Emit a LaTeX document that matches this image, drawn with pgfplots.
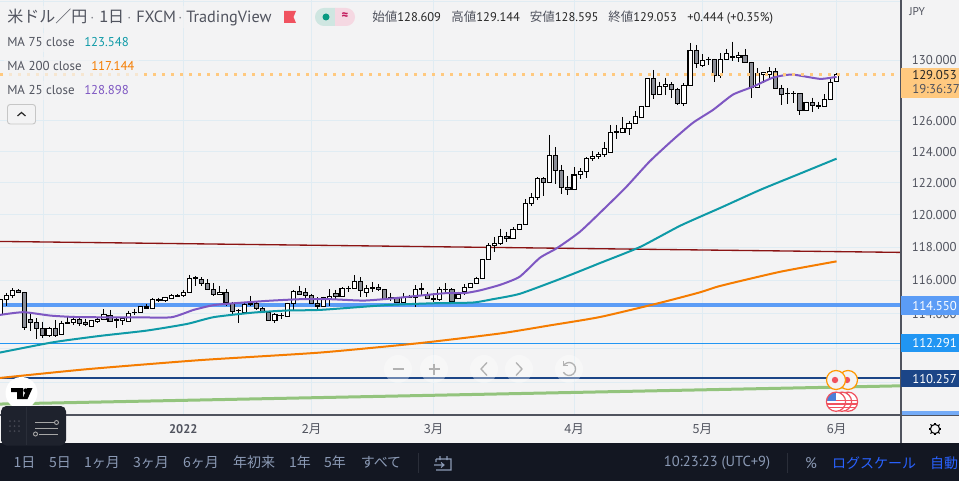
\documentclass[border=0pt]{standalone}
\usepackage{fontspec}
\usepackage{pgfplots}
\pgfplotsset{compat=1.18}
\setmainfont{PT Sans}
\newfontfamily\cjk{Noto Sans CJK JP}
\newcommand\fs[1]{\fontsize{#1}{#1}\selectfont}
\definecolor{bg}{HTML}{F3F3F4}
\definecolor{gridc}{HTML}{E0ECF3}
\definecolor{dark}{HTML}{131722}
\definecolor{txt}{HTML}{50535E}
\definecolor{teal75}{HTML}{0E9AA7}
\definecolor{orange200}{HTML}{F57C00}
\definecolor{purple25}{HTML}{7E57C2}
\definecolor{lineblue}{HTML}{5B9CF6}
\definecolor{tagblue}{HTML}{2196F3}
\definecolor{navy}{HTML}{1B4587}
\definecolor{trend}{HTML}{8B1414}
\definecolor{greenl}{HTML}{93C47D}
\definecolor{dot}{HTML}{FFC97F}
\definecolor{barg}{HTML}{8A8D96}
\definecolor{btn}{HTML}{8B9AB5}
\definecolor{pillg}{HTML}{CFE6E1}
\definecolor{pillr}{HTML}{F5D8E2}
\definecolor{dotg}{HTML}{089981}
\definecolor{crim}{HTML}{C2185B}
\definecolor{orev}{HTML}{FF9800}
\definecolor{redev}{HTML}{F0525F}
\definecolor{flagb}{HTML}{4A7FD8}
\definecolor{panel}{HTML}{1E222D}
\definecolor{sepc}{HTML}{2A2E39}
\definecolor{dotp}{HTML}{434651}
\definecolor{royal}{HTML}{2962FF}
\tikzset{wick/.style={black,line width=0.75pt},
  bodyu/.style={draw=black,fill=white,line width=0.8pt,line join=miter},
  bodyd/.style={draw=black,fill=barg,line width=0.8pt,line join=miter},
  ma/.style={line width=1.5pt,smooth,tension=0.35}}
% candle: index, open, high, low, close
\newcommand\CU[5]{\pgfmathsetmacro\xa{#1-0.34}\pgfmathsetmacro\xb{#1+0.34}%
  \addplot[wick,forget plot] coordinates {(#1,#3)(#1,#4)};%
  \addplot[bodyu,forget plot] coordinates {(\xa,#2)(\xb,#2)(\xb,#5)(\xa,#5)} --cycle;}
\newcommand\CD[5]{\pgfmathsetmacro\xa{#1-0.34}\pgfmathsetmacro\xb{#1+0.34}%
  \addplot[wick,forget plot] coordinates {(#1,#3)(#1,#4)};%
  \addplot[bodyd,forget plot] coordinates {(\xa,#2)(\xb,#2)(\xb,#5)(\xa,#5)} --cycle;}
\begin{document}
\begin{tikzpicture}
\useasboundingbox (0pt,0pt) rectangle (719.25pt,-360.75pt);
\fill[bg] (0pt,0pt) rectangle (719.25pt,-360.75pt);
\begin{axis}[at={(0pt,-311.25pt)},anchor=south west,scale only axis,
  width=675.75pt,height=311.25pt,
  ymode=log,xmin=-0.033,xmax=147.55,ymin=108.19,ymax=134.14,
  axis line style={draw=none},major tick length=0pt,minor tick length=0pt,
  grid=major,grid style={gridc,line width=0.75pt},
  xtick={7.17,30,51,71,94,115,137},
  xticklabels={{},\textbf{2022},{\cjk 2月},{\cjk 3月},{\cjk 4月},{\cjk 5月},{\cjk 6月}},
  xticklabel style={anchor=center,inner sep=0pt,yshift=-10.5pt,font=\fs{9.4pt},text=txt},
  ytick={110,112,114,116,118,120,122,124,126,130,134},
  yticklabels={{},{},114.000,116.000,118.000,120.000,122.000,124.000,126.000,130.000,{}},
  yticklabel pos=right,
  yticklabel style={anchor=west,inner sep=0pt,xshift=8pt,font=\fs{9.6pt},text=txt},
  clip=true]
% horizontal drawings
\addplot[lineblue,line width=3pt,forget plot] coordinates {(-0.033,114.55)(147.55,114.55)};
\addplot[tagblue,line width=0.75pt,forget plot] coordinates {(-0.033,112.291)(147.55,112.291)};
\addplot[navy,line width=1.5pt,forget plot] coordinates {(-0.033,110.257)(147.55,110.257)};
\addplot[trend,line width=1pt,forget plot] coordinates {(-0.033,118.36)(147.55,117.69)};
\addplot[greenl,line width=2.25pt,forget plot] coordinates {(-0.033,108.80)(147.55,109.83)};
% candles
\CU{0}{113.98}{114.89}{113.94}{114.87}
\CU{1}{114.83}{115.25}{114.47}{115.11}
\CU{2}{115.11}{115.53}{114.93}{115.41}
\CD{3}{115.41}{115.47}{115.25}{115.29}
\CD{4}{115.29}{115.31}{113.08}{113.20}
\CD{5}{113.69}{113.98}{113.02}{113.49}
\CD{6}{113.51}{113.75}{112.55}{113.14}
\CD{7}{113.14}{113.55}{112.59}{112.73}
\CU{8}{112.73}{113.25}{112.65}{113.14}
\CD{9}{113.16}{113.65}{112.65}{112.75}
\CU{10}{112.81}{113.61}{112.75}{113.45}
\CD{11}{113.51}{113.81}{113.44}{113.45}
\CU{12}{113.47}{113.90}{113.35}{113.65}
\CD{13}{113.65}{113.81}{113.31}{113.45}
\CD{14}{113.47}{113.72}{113.30}{113.35}
\CU{15}{113.28}{113.65}{113.24}{113.59}
\CU{16}{113.55}{113.77}{113.49}{113.69}
\CU{17}{113.69}{114.27}{113.65}{113.94}
\CD{18}{113.92}{114.24}{113.53}{113.57}
\CU{19}{113.59}{113.81}{113.18}{113.69}
\CU{20}{113.59}{113.78}{113.37}{113.71}
\CU{21}{113.57}{114.20}{113.53}{114.04}
\CD{22}{114.10}{114.31}{113.96}{114.06}
\CU{23}{114.10}{114.46}{114.06}{114.41}
\CU{24}{114.35}{114.57}{114.34}{114.41}
\CU{25}{114.34}{114.95}{114.31}{114.87}
\CU{26}{114.79}{114.97}{114.71}{114.87}
\CU{27}{114.79}{115.03}{114.69}{114.95}
\CU{28}{114.93}{115.19}{114.87}{115.07}
\CU{29}{115.05}{115.19}{115.03}{115.11}
\CU{30}{115.11}{115.43}{115.03}{115.29}
\CU{31}{115.29}{116.33}{115.26}{116.13}
\CD{32}{116.15}{116.27}{115.63}{116.09}
\CD{33}{116.07}{116.19}{115.67}{115.83}
\CD{34}{115.83}{116.07}{115.45}{115.47}
\CD{35}{115.47}{115.83}{115.07}{115.15}
\CU{36}{115.17}{115.67}{115.15}{115.29}
\CD{37}{115.29}{115.47}{114.47}{114.67}
\CD{38}{114.63}{114.71}{114.00}{114.16}
\CU{39}{114.20}{114.29}{113.49}{114.22}
\CU{40}{114.10}{114.63}{114.08}{114.57}
\CU{41}{114.55}{115.07}{114.47}{114.59}
\CD{42}{114.59}{114.71}{114.24}{114.34}
\CD{43}{114.34}{114.43}{114.04}{114.08}
\CD{44}{114.08}{114.12}{113.62}{113.63}
\CU{45}{113.61}{114.04}{113.49}{113.94}
\CU{46}{113.88}{114.08}{113.72}{113.92}
\CU{47}{113.87}{114.67}{113.81}{114.63}
\CU{48}{114.59}{115.43}{114.24}{115.32}
\CD{49}{115.35}{115.67}{115.11}{115.17}
\CD{50}{115.29}{115.53}{114.87}{115.11}
\CD{51}{115.11}{115.19}{114.59}{114.63}
\CD{52}{114.63}{114.99}{114.28}{114.47}
\CU{53}{114.46}{115.03}{114.40}{114.95}
\CU{54}{114.93}{115.47}{114.47}{115.05}
\CD{55}{115.23}{115.43}{114.91}{115.03}
\CU{56}{115.03}{115.59}{114.99}{115.53}
\CU{57}{115.49}{115.68}{115.31}{115.53}
\CU{58}{115.53}{116.33}{115.51}{115.92}
\CD{59}{115.95}{116.19}{115.03}{115.41}
\CU{60}{115.29}{115.70}{115.03}{115.51}
\CD{61}{115.59}{115.90}{115.32}{115.51}
\CD{62}{115.59}{115.78}{115.35}{115.45}
\CD{63}{115.47}{115.49}{114.87}{114.93}
\CD{64}{114.95}{115.26}{114.79}{114.91}
\CD{65}{114.93}{115.03}{114.67}{114.69}
\CU{66}{114.67}{115.23}{114.63}{114.95}
\CU{67}{114.97}{115.13}{114.93}{115.03}
\CU{68}{114.95}{115.70}{114.43}{115.47}
\CU{69}{115.47}{115.83}{115.13}{115.51}
\CD{70}{115.11}{115.32}{114.89}{114.91}
\CD{71}{114.93}{115.23}{114.73}{114.87}
\CU{72}{114.87}{115.62}{114.75}{115.47}
\CU{73}{115.43}{115.83}{115.31}{115.47}
\CD{74}{115.47}{115.53}{114.71}{114.73}
\CU{75}{114.91}{115.32}{114.87}{115.15}
\CU{76}{115.31}{115.78}{115.13}{115.59}
\CU{77}{115.59}{115.86}{115.55}{115.83}
\CU{78}{115.83}{116.22}{115.80}{116.13}
\CU{79}{116.13}{117.30}{116.10}{117.28}
\CU{80}{117.28}{118.25}{117.25}{118.13}
\CU{81}{118.10}{118.64}{117.74}{118.25}
\CU{82}{118.21}{119.14}{118.15}{118.66}
\CD{83}{118.68}{118.97}{118.35}{118.54}
\CU{84}{118.54}{119.22}{118.50}{119.12}
\CU{85}{119.12}{119.46}{119.09}{119.43}
\CU{86}{119.43}{120.98}{119.40}{120.73}
\CU{87}{120.73}{121.36}{120.58}{121.11}
\CU{88}{121.11}{122.37}{120.94}{122.28}
\CD{89}{122.28}{122.37}{121.19}{122.05}
\CU{90}{122.03}{125.08}{122.01}{123.77}
\CD{91}{123.77}{124.28}{121.94}{122.82}
\CD{92}{122.82}{123.15}{121.30}{121.74}
\CD{93}{121.71}{122.45}{121.24}{121.59}
\CU{94}{121.61}{122.99}{121.59}{122.50}
\CU{95}{122.54}{122.94}{122.25}{122.73}
\CU{96}{122.73}{123.64}{122.32}{123.58}
\CU{97}{123.58}{124.05}{123.41}{123.71}
\CU{98}{123.71}{123.98}{123.52}{123.83}
\CU{99}{123.83}{124.63}{123.68}{124.22}
\CU{100}{123.94}{125.73}{123.94}{125.26}
\CU{101}{125.23}{125.73}{124.80}{125.27}
\CU{102}{125.23}{126.25}{125.23}{125.51}
\CU{103}{125.49}{125.99}{125.10}{125.84}
\CU{104}{125.84}{126.64}{125.81}{126.30}
\CU{105}{126.20}{126.97}{126.18}{126.95}
\CU{106}{126.95}{128.83}{126.93}{128.81}
\CD{107}{128.81}{129.36}{127.43}{127.74}
\CU{108}{127.74}{128.58}{127.72}{128.27}
\CU{109}{128.25}{128.85}{127.70}{128.41}
\CD{110}{128.41}{128.52}{127.52}{128.07}
\CD{111}{128.07}{128.18}{127.00}{127.15}
\CU{112}{127.15}{128.50}{126.97}{128.31}
\CU{113}{128.31}{131.18}{128.29}{130.69}
\CD{114}{130.69}{131.05}{129.48}{129.81}
\CU{115}{129.65}{130.42}{129.57}{130.01}
\CD{116}{130.08}{130.26}{129.70}{130.03}
\CD{117}{130.08}{130.10}{128.58}{128.98}
\CU{118}{128.98}{130.49}{128.81}{130.08}
\CU{119}{130.05}{130.78}{130.04}{130.49}
\CD{120}{130.28}{131.27}{129.97}{130.21}
\CU{121}{130.21}{130.59}{129.92}{130.35}
\CD{122}{130.35}{130.78}{129.83}{129.88}
\CD{123}{129.88}{129.90}{127.52}{128.18}
\CU{124}{128.18}{129.48}{128.17}{129.12}
\CU{125}{129.07}{129.23}{128.50}{129.21}
\CU{126}{129.07}{129.54}{128.70}{129.25}
\CD{127}{129.25}{129.48}{128.09}{128.14}
\CD{128}{128.14}{128.36}{127.00}{127.74}
\CD{129}{127.81}{128.14}{127.09}{127.76}
\CD{130}{127.81}{127.96}{127.14}{127.78}
\CD{131}{127.78}{127.80}{126.38}{126.66}
\CU{132}{126.66}{127.25}{126.64}{127.21}
\CD{133}{127.21}{127.51}{126.56}{126.99}
\CD{134}{126.99}{127.25}{126.74}{126.95}
\CU{135}{126.95}{127.74}{126.93}{127.41}
\CU{136}{127.41}{128.76}{127.39}{128.54}
\CU{137}{128.609}{129.144}{128.595}{129.053}
% moving averages
\addplot[orange200,ma,forget plot] coordinates {(-0.033,110.28)(14.2,110.78)(32.7,111.30)(52.4,111.74)(68.8,112.29)(81.9,112.85)(90,113.32)(98.3,113.82)(108,114.65)(114.6,115.28)(118,115.67)(127.7,116.51)(137,117.144)};
\addplot[teal75,ma,forget plot] coordinates {(-0.033,111.74)(8.7,112.34)(16.4,112.71)(24,113.02)(30.6,113.41)(35,113.81)(41.5,114.08)(47,114.20)(52.5,114.24)(63.3,114.52)(71,114.63)(77.4,114.67)(80.7,114.87)(85.1,115.19)(91.7,116.08)(98.3,117.05)(104.8,118.02)(111.4,119.33)(118,120.44)(124.5,121.57)(131,122.59)(137,123.548)};
\addplot[purple25,ma,forget plot] coordinates {(-0.033,113.94)(3.8,114.10)(8.2,113.90)(12,113.82)(16.4,113.80)(22,113.80)(28,113.80)(31.7,114.24)(35,114.52)(38.3,114.63)(43.7,114.77)(49.2,114.87)(54,114.87)(59.5,114.79)(64,114.91)(68.3,115.07)(73,115.23)(76,115.23)(78.5,115.39)(81.9,115.73)(85.1,116.22)(88.4,117.36)(91.2,117.95)(95,118.97)(99.3,120.52)(102.6,121.77)(106.4,123.38)(110.2,124.76)(113.5,125.87)(116.8,126.72)(120,127.71)(123.3,128.24)(126.6,128.85)(129.7,129.05)(134.3,128.76)(137,128.898)};
\addplot[dot,line width=2.25pt,dash pattern=on 2.25pt off 4.5pt,forget plot] coordinates {(-0.033,129.053)(147.55,129.053)};
\end{axis}
\begin{scope}[x=0.75pt,y=-0.75pt]
% frame of scales
\draw[txt,line width=0.9pt] (901,0) -- (901,443);
\draw[txt,line width=0.9pt] (0,415) -- (959,415);
\fill[dark] (0,443) rectangle (959,481);
% price tags
\fill[dot] (901,68) rectangle (959,98);
\node[anchor=base west,inner sep=0,font=\fs{9.6pt},text=black!85] at (912,79.5) {129.053};
\node[anchor=base west,inner sep=0,font=\fs{9.6pt},text=txt] at (912,94) {19:36:37};
\fill[lineblue] (901,296) rectangle (959,315);
\node[anchor=base west,inner sep=0,font=\fs{9.6pt},text=white] at (912,310) {114.550};
\fill[tagblue] (901,334) rectangle (959,352);
\node[anchor=base west,inner sep=0,font=\fs{9.6pt},text=white] at (912,347.5) {112.291};
\fill[navy] (901,370) rectangle (959,387);
\node[anchor=base west,inner sep=0,font=\fs{9.6pt},text=white] at (912,383) {110.257};
\fill[lineblue!85!white] (902,411) rectangle (959,414.6);
\node[anchor=base west,inner sep=0,font=\fs{8.5pt},text=txt] at (909,16) {JPY};
% gear
\draw[black,line width=0.8pt] (935,429) circle (4.6);
\foreach \a in {0,45,...,315}{\draw[black,line width=0.8pt] (935,429)++(\a:4.6) -- ++(\a:1.8);}
% header
\fill[bg,opacity=0.6] (3,6) rectangle (278,28);
\node[anchor=base west,inner sep=0,font=\fs{12pt}\cjk,text=txt] at (7,23) {米ドル／円};
\node[anchor=base west,inner sep=0,font=\fs{11pt},text=txt!70] at (90,23) {·};
\node[anchor=base west,inner sep=0,font=\fs{12pt}\cjk,text=txt] at (99,23) {1日};
\node[anchor=base west,inner sep=0,font=\fs{11pt},text=txt!70] at (127,23) {·};
\node[anchor=base west,inner sep=0,font=\fs{12.2pt},text=txt] at (136,23) {FXCM};
\node[anchor=base west,inner sep=0,font=\fs{11pt},text=txt!70] at (178,23) {·};
\node[anchor=base west,inner sep=0,font=\fs{12.2pt},text=txt] at (186,23) {TradingView};
\fill[redev] (284,11) -- (296,11) -- (293.5,17) -- (296,23) -- (284,23) -- cycle;
\begin{scope}\clip (314,7) rectangle (335,27);\fill[pillg,rounded corners=6.7pt] (315,8) rectangle (355,26);\end{scope}
\begin{scope}\clip (335,7) rectangle (356,27);\fill[pillr,rounded corners=6.7pt] (315,8) rectangle (355,26);\end{scope}
\fill[dotg] (326,17) circle (3.5);
\node[inner sep=0,font=\fs{9.5pt}\bfseries,text=crim] at (345,16.5) {≈};
\node[anchor=base west,inner sep=0,font=\fs{9.4pt},text=black!85] at (372,21.5) {{\cjk\color{txt}始値}128.609};
\node[anchor=base west,inner sep=0,font=\fs{9.4pt},text=black!85] at (451,21.5) {{\cjk\color{txt}高値}129.144};
\node[anchor=base west,inner sep=0,font=\fs{9.4pt},text=black!85] at (529.5,21.5) {{\cjk\color{txt}安値}128.595};
\node[anchor=base west,inner sep=0,font=\fs{9.4pt},text=black!85] at (608,21.5) {{\cjk\color{txt}終値}129.053};
\node[anchor=base west,inner sep=0,font=\fs{9.4pt},text=black!85] at (687,21.5) {+0.444 (+0.35\%)};
% legend of MA
\fill[bg,opacity=0.7] (4,33) rectangle (132,52);
\fill[bg,opacity=0.7] (4,57) rectangle (139,76);
\fill[bg,opacity=0.7] (4,81) rectangle (132,100);
\node[anchor=base west,inner sep=0,font=\fs{9.7pt},text=txt] at (7,47) {MA 75 close};
\node[anchor=base west,inner sep=0,font=\fs{9.6pt},text=teal75] at (84,47) {123.548};
\node[anchor=base west,inner sep=0,font=\fs{9.7pt},text=txt] at (7,71) {MA 200 close};
\node[anchor=base west,inner sep=0,font=\fs{9.6pt},text=orange200] at (91,71) {117.144};
\node[anchor=base west,inner sep=0,font=\fs{9.7pt},text=txt] at (7,95) {MA 25 close};
\node[anchor=base west,inner sep=0,font=\fs{9.6pt},text=purple25] at (84,95) {128.898};
\draw[gray!45,fill=bg,rounded corners=2pt,line width=0.7pt] (7.5,104.5) rectangle (35.5,124);
\draw[black!85,line width=0.9pt] (17.5,116) -- (21.5,112.5) -- (25.5,116);
% ghost navigation
\foreach \cx in {398,434,484,519,569}{\fill[white,opacity=0.35] (\cx,369) circle (14);}
\draw[gray!60,line width=1pt] (392.5,369) -- (403.5,369);
\draw[gray!60,line width=1pt] (428.5,369) -- (439.5,369) (434,363.5) -- (434,374.5);
\draw[gray!60,line width=1pt] (487,362.5) -- (481,369) -- (487,375.5);
\draw[gray!60,line width=1pt] (516,362.5) -- (522,369) -- (516,375.5);
\draw[gray!60,line width=1pt] (563.4,365.75) arc[start angle=-150,end angle=150,radius=6.5];
\draw[gray!60,line width=1pt] (563.4,361) -- (563.4,365.75) -- (568,365.75);
% events
\foreach \cx in {848,836}{\draw[orev,fill=bg,line width=0.9pt] (\cx,380) circle (9.5);\fill[redev] (\cx-1,380) circle (3.2);}
\foreach \cx in {848,842,836}{
 \begin{scope}
 \clip (\cx,401.7) circle (9.6);
 \fill[white] (\cx-10,392) rectangle (\cx+10,412);
 \fill[redev] (\cx-10,399.5) rectangle (\cx+10,401.2);
 \fill[redev] (\cx-10,403) rectangle (\cx+10,404.7);
 \fill[redev] (\cx-10,406.5) rectangle (\cx+10,408.2);
 \fill[flagb] (\cx-10,392) rectangle (\cx,400.8);
 \end{scope}
 \draw[redev,line width=0.9pt] (\cx,401.7) circle (9.6);}
% logo and panel
\fill[white] (21.5,393) circle (16);
\fill[black] (11,388) -- (23,388) -- (23,399) -- (17,399) -- (17,392) -- (11,392) -- cycle;
\fill[black] (25.5,390.5) circle (2.2);
\fill[black] (27,388) -- (32.5,388) -- (27.5,399) -- (22.5,399) -- cycle;
\fill[panel,rounded corners=4pt] (1,406) rectangle (66,445.5);
\draw[sepc,line width=0.7pt] (26,407) -- (26,445);
\foreach \px in {10,14.5,19}{\foreach \py in {421,426,431}{\fill[dotp] (\px,\py) circle (1);}}
\draw[gray!70,line width=0.7pt] (35,422.5) -- (54,422.5) (35,428) -- (58,428) (39,434) -- (58,434);
\draw[gray!70,line width=0.7pt] (56.5,422.5) circle (2);
\draw[gray!70,line width=0.7pt] (35.5,434) circle (2);
% bottom bar
\foreach \tx/\lab in {24.5/1日,60/5日,102/1ヶ月,151/3ヶ月,201/6ヶ月,254/年初来,300/1年,335/5年,381/すべて}{
 \node[inner sep=0,font=\fs{10.5pt}\cjk,text=btn] at (\tx,462.5) {\lab};}
\draw[sepc,line width=0.75pt] (418.5,453) -- (418.5,473);
\draw[btn,line width=0.8pt] (436,459) -- (451,459) -- (451,470) -- (436,470) (436,459) -- (436,462) (440,456) -- (440,460) (447,456) -- (447,460) (434,465) -- (444,465) (441,462.5) -- (444,465) -- (441,467.5);
\node[inner sep=0,font=\fs{10.9pt},text=btn] at (717,463) {10:23:23 (UTC+9)};
\draw[sepc,line width=0.75pt] (787.5,453) -- (787.5,473);
\node[inner sep=0,font=\fs{11.5pt},text=btn] at (811,463) {\%};
\node[inner sep=0,font=\fs{10.5pt}\cjk,text=royal] at (874,463) {ログスケール};
\node[inner sep=0,font=\fs{10.5pt}\cjk,text=royal] at (944,463) {自動};
\end{scope}
\end{tikzpicture}
\end{document}
